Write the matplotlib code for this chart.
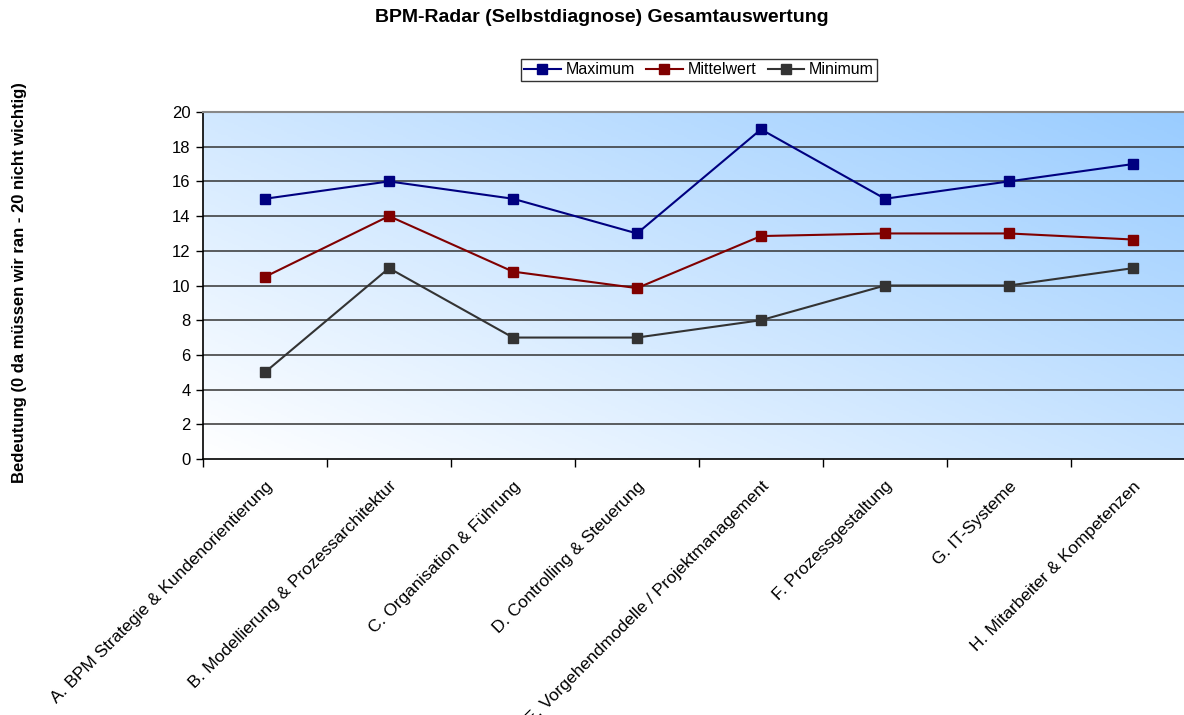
import numpy as np
import matplotlib.pyplot as plt
from matplotlib.colors import LinearSegmentedColormap

plt.rcParams['font.family'] = ['Liberation Sans', 'DejaVu Sans']

# Data
categories = [
    "A. BPM Strategie & Kundenorientierung",
    "B. Modellierung & Prozessarchitektur",
    "C. Organisation & Führung",
    "D. Controlling & Steuerung",
    "E. Vorgehendmodelle / Projektmanagement",
    "F. Prozessgestaltung",
    "G. IT-Systeme",
    "H. Mitarbeiter & Kompetenzen",
]
maximum = [15, 16, 15, 13, 19, 15, 16, 17]
mittelwert = [10.5, 14, 10.8, 9.85, 12.85, 13, 13, 12.65]
minimum = [5, 11, 7, 7, 8, 10, 10, 11]

series_names = ["Maximum", "Mittelwert", "Minimum"]
series_colors = ["#000080", "#800000", "#333333"]

fig = plt.figure(figsize=(11.84, 7.15), dpi=100)
ax = fig.add_axes([203 / 1184, 1 - 459 / 715, 992 / 1184, 347 / 715])

x = np.arange(len(categories))
ax.set_xlim(-0.5, len(categories) - 0.5)
ax.set_ylim(0, 20)

# diagonal gradient background: white bottom-left -> light blue top-right
cmap = LinearSegmentedColormap.from_list("bg", ["#FFFFFF", "#99CCFF"])
gx, gy = np.meshgrid(np.linspace(0, 1, 300), np.linspace(0, 1, 200))
grad = (gx * 0.55 + gy * 0.45)
ax.imshow(grad, cmap=cmap, origin="lower", aspect="auto",
          extent=[-0.5, len(categories) - 0.5, 0, 20], zorder=0,
          vmin=0, vmax=1)

for yv in range(2, 20, 2):
    ax.axhline(yv, color="#333333", lw=1.1, zorder=1)

for vals, name, col in zip([maximum, mittelwert, minimum], series_names, series_colors):
    ax.plot(x, vals, color=col, lw=1.5, marker="s", markersize=6.5,
            label=name, zorder=3)

ax.spines["top"].set_color("#888888")
ax.spines["top"].set_linewidth(1.5)
ax.spines["right"].set_visible(False)
ax.spines["left"].set_linewidth(1.2)
ax.spines["bottom"].set_linewidth(1.2)

ax.set_yticks(range(0, 21, 2))
ax.tick_params(axis="y", direction="out", length=5, width=1, labelsize=12, pad=4)

ax.set_xticks(x)
ax.set_xticklabels(categories, rotation=45, ha="right", rotation_mode="anchor",
                   fontsize=12.5)
ax.set_xticks(np.arange(-0.5, len(categories), 1), minor=True)
ax.tick_params(axis="x", which="major", length=0, pad=14)
ax.tick_params(axis="x", which="minor", direction="out", length=6, width=1)

fig.text(20 / 1184, 1 - 283 / 715,
         "Bedeutung (0 da müssen wir ran - 20 nicht wichtig)",
         rotation=90, ha="center", va="center", fontsize=12, fontweight="bold")

fig.text(602 / 1184, 1 - 18 / 715, "BPM-Radar (Selbstdiagnose) Gesamtauswertung",
         ha="center", va="center", fontsize=14, fontweight="bold")

leg = fig.legend(loc="center", bbox_to_anchor=(699 / 1184, 1 - 70 / 715), ncol=3,
                 fontsize=11.5, frameon=True, fancybox=False, edgecolor="black",
                 handlelength=2.3, handletextpad=0.3, columnspacing=0.7,
                 borderpad=0.2, borderaxespad=0)
leg.get_frame().set_linewidth(1.0)

fig.savefig("out.png", dpi=100)
